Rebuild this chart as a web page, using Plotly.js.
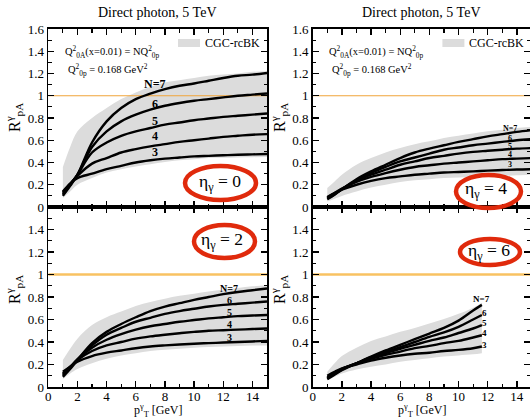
<!DOCTYPE html>
<html><head><meta charset="utf-8">
<script src="https://cdn.plot.ly/plotly-3.0.1.min.js"></script>
<style>body{margin:0;background:#fff}#chart{width:530px;height:419px}</style>
</head><body><div id="chart"></div><script>
// ---- data ----
const xGrid = [1,1.5,2,3,4,5,6,7,8,9,10,11,12,13,14,15];
const xGridEta6 = [1,1.5,2,3,4,5,6,7,8,9,10,11,11.6];
const nLabels = ['N=7','6','5','4','3'];

// eta = 0
const eta0_N7 = [0.10,0.19,0.29,0.58,0.77,0.89,0.97,1.02,1.06,1.09,1.11,1.135,1.16,1.18,1.19,1.205];
const eta0_N6 = [0.11,0.20,0.29,0.54,0.68,0.77,0.83,0.875,0.91,0.935,0.955,0.97,0.985,1.0,1.01,1.02];
const eta0_N5 = [0.12,0.20,0.29,0.49,0.58,0.64,0.68,0.71,0.74,0.76,0.78,0.795,0.81,0.82,0.83,0.84];
const eta0_N4 = [0.13,0.21,0.28,0.39,0.44,0.49,0.52,0.545,0.565,0.585,0.60,0.615,0.63,0.64,0.65,0.655];
const eta0_N3 = [0.14,0.21,0.26,0.30,0.34,0.37,0.40,0.42,0.435,0.445,0.455,0.46,0.465,0.47,0.473,0.476];
const eta0_bandHi = [0.36,0.54,0.68,0.80,0.89,0.97,1.03,1.08,1.12,1.14,1.16,1.18,1.19,1.20,1.215,1.22];
const eta0_bandLo = [0.08,0.14,0.20,0.26,0.31,0.34,0.365,0.385,0.405,0.42,0.43,0.44,0.443,0.446,0.448,0.45];

// eta = 4
const eta4_N7 = [0.07,0.11,0.16,0.25,0.32,0.38,0.44,0.49,0.525,0.555,0.585,0.61,0.635,0.655,0.675,0.69];
const eta4_N6 = [0.075,0.115,0.16,0.24,0.305,0.36,0.41,0.445,0.48,0.515,0.535,0.555,0.57,0.585,0.60,0.61];
const eta4_N5 = [0.08,0.12,0.16,0.235,0.29,0.335,0.38,0.41,0.44,0.46,0.48,0.495,0.505,0.515,0.525,0.53];
const eta4_N4 = [0.085,0.125,0.165,0.225,0.27,0.305,0.335,0.36,0.375,0.39,0.40,0.41,0.42,0.43,0.435,0.44];
const eta4_N3 = [0.09,0.125,0.155,0.20,0.235,0.26,0.275,0.29,0.30,0.31,0.315,0.32,0.327,0.332,0.337,0.34];
const eta4_bandHi = [0.17,0.23,0.29,0.38,0.44,0.49,0.53,0.565,0.59,0.62,0.64,0.66,0.68,0.695,0.71,0.72];
const eta4_bandLo = [0.05,0.075,0.10,0.14,0.175,0.20,0.225,0.24,0.25,0.26,0.265,0.27,0.275,0.28,0.285,0.29];

// eta = 2
const eta2_N7 = [0.09,0.16,0.24,0.39,0.49,0.56,0.62,0.675,0.715,0.745,0.775,0.80,0.825,0.845,0.86,0.875];
const eta2_N6 = [0.10,0.17,0.245,0.37,0.465,0.525,0.58,0.615,0.65,0.675,0.695,0.715,0.73,0.74,0.75,0.76];
const eta2_N5 = [0.11,0.175,0.245,0.35,0.42,0.47,0.51,0.54,0.56,0.58,0.595,0.61,0.62,0.63,0.635,0.64];
const eta2_N4 = [0.12,0.18,0.24,0.32,0.37,0.40,0.43,0.45,0.465,0.478,0.49,0.50,0.505,0.51,0.515,0.52];
const eta2_N3 = [0.135,0.18,0.225,0.275,0.305,0.325,0.345,0.36,0.37,0.378,0.385,0.39,0.395,0.40,0.405,0.41];
const eta2_bandHi = [0.24,0.34,0.43,0.55,0.62,0.67,0.72,0.755,0.785,0.81,0.83,0.85,0.865,0.88,0.895,0.905];
const eta2_bandLo = [0.07,0.12,0.16,0.21,0.25,0.28,0.30,0.32,0.33,0.34,0.35,0.355,0.36,0.365,0.368,0.37];

// eta = 6
const eta6_N7 = [0.07,0.11,0.15,0.21,0.27,0.325,0.375,0.425,0.475,0.525,0.59,0.68,0.73];
const eta6_N6 = [0.075,0.115,0.155,0.21,0.265,0.31,0.355,0.40,0.445,0.485,0.535,0.60,0.64];
const eta6_N5 = [0.08,0.12,0.16,0.21,0.26,0.30,0.34,0.375,0.41,0.44,0.48,0.52,0.55];
const eta6_N4 = [0.085,0.125,0.16,0.21,0.25,0.285,0.315,0.345,0.365,0.39,0.41,0.44,0.46];
const eta6_N3 = [0.10,0.135,0.165,0.20,0.235,0.26,0.28,0.295,0.305,0.32,0.33,0.345,0.36];
const eta6_bandHi = [0.135,0.21,0.275,0.35,0.41,0.45,0.49,0.525,0.565,0.605,0.65,0.705,0.75];
const eta6_bandLo = [0.06,0.09,0.12,0.155,0.18,0.20,0.225,0.24,0.255,0.27,0.28,0.29,0.30];

const unityX = [0, 15];
const unityY = [1, 1];
const yTickVals = [0,0.2,0.4,0.6,0.8,1,1.2,1.4,1.6];
const yTickTextTop = ['0','0.2','0.4','0.6','0.8','1','1.2','1.4','1.6'];
const yTickTextBottom = ['0','0.2','0.4','0.6','0.8','1','1.2','1.4',''];
const xTickVals = [0,2,4,6,8,10,12,14];

// ---- layout helpers ----
const W = 530, H = 419;
const PX = p => p / W;
const PY = p => (H - p) / H;
const FONT = 'Liberation Serif';

const panels = [
  {xa:'x', ya:'y', x: xGrid, curves:[eta0_N7,eta0_N6,eta0_N5,eta0_N4,eta0_N3], lo: eta0_bandLo, hi: eta0_bandHi, unityColor:'#f0a43a', unityW:1.2},
  {xa:'x2', ya:'y2', x: xGrid, curves:[eta4_N7,eta4_N6,eta4_N5,eta4_N4,eta4_N3], lo: eta4_bandLo, hi: eta4_bandHi, unityColor:'#f0a43a', unityW:1.2},
  {xa:'x3', ya:'y3', x: xGrid, curves:[eta2_N7,eta2_N6,eta2_N5,eta2_N4,eta2_N3], lo: eta2_bandLo, hi: eta2_bandHi, unityColor:'#f8c262', unityW:2.4},
  {xa:'x4', ya:'y4', x: xGridEta6, curves:[eta6_N7,eta6_N6,eta6_N5,eta6_N4,eta6_N3], lo: eta6_bandLo, hi: eta6_bandHi, unityColor:'#f8c262', unityW:2.4}
];

const traces = [];
panels.forEach(p => {
  traces.push({x:p.x, y:p.lo, xaxis:p.xa, yaxis:p.ya, mode:'lines', line:{width:0, shape:'spline', color:'#dcdcdc'}, hoverinfo:'skip', showlegend:false});
  traces.push({x:p.x, y:p.hi, xaxis:p.xa, yaxis:p.ya, mode:'lines', fill:'tonexty', fillcolor:'#dcdcdc', line:{width:0, shape:'spline', color:'#dcdcdc'}, hoverinfo:'skip', showlegend:false});
  traces.push({x:unityX, y:unityY, xaxis:p.xa, yaxis:p.ya, mode:'lines', line:{width:p.unityW, color:p.unityColor}, showlegend:false, hoverinfo:'skip'});
  p.curves.forEach((c,i) => {
    traces.push({x:p.x, y:c, xaxis:p.xa, yaxis:p.ya, mode:'lines', name:nLabels[i], line:{width:2.4, color:'#000', shape:'spline', smoothing:1}, showlegend:false});
  });
});

const axisBase = {
  showline:true, linecolor:'#000', linewidth:1.6, mirror:'allticks',
  ticks:'inside', ticklen:6, tickwidth:1.4, tickcolor:'#000',
  showgrid:false, zeroline:false,
  tickfont:{family:FONT, size:13, color:'#000'}
};
function xAxis(domain, range, labels, anchor) {
  return Object.assign({}, axisBase, {domain, range, anchor, tickmode:'array', tickvals:xTickVals, showticklabels:labels,
    ticklabelstandoff:-3,
    minor:{ticks:'inside', dtick:1, tick0:0, ticklen:3.5, tickwidth:1.2, tickcolor:'#000', showgrid:false}});
}
function yAxis(domain, text, anchor) {
  return Object.assign({}, axisBase, {domain, range:[0,1.6], anchor, tickmode:'array', tickvals:yTickVals, ticktext:text,
    minor:{ticks:'inside', dtick:0.1, tick0:0, ticklen:3.5, tickwidth:1.2, tickcolor:'#000', showgrid:false}});
}

const xL = [PX(48.3), PX(267)];
const xR = [PX(312.7), 1];
const yT = [PY(207), PY(29)];
const yB = [PY(387), PY(207)];

const ann = [];
const shapes = [];
function txt(x, y, text, size, extra) {
  ann.push(Object.assign({xref:'paper', yref:'paper', x:PX(x), y:PY(y), xanchor:'center', yanchor:'middle', borderpad:0, text, showarrow:false, font:{family:FONT, size, color:'#000'}}, extra||{}));
}
// titles
txt(157.5, 13, 'Direct photon, 5 TeV', 14);
txt(421, 13, 'Direct photon, 5 TeV', 14);
// y titles
[[14,118],[14,290],[279,118],[279,290]].forEach(p => txt(p[0], p[1], 'R<sup>γ</sup><sub>pA</sub>', 16, {textangle:-90}));
// x titles
txt(158, 410.5, 'p<sup>γ</sup><sub>T</sub> [GeV]', 12);
txt(422, 410.5, 'p<sup>γ</sup><sub>T</sub> [GeV]', 12);
// Q annotations & legend for top panels
[0, 264.4].forEach(dx => {
  txt(64+dx, 52, 'Q<sup>2</sup><sub>0A</sub>(x=0.01) = NQ<sup>2</sup><sub>0p</sub>', 10.5, {xanchor:'left'});
  txt(67+dx, 70, 'Q<sup>2</sup><sub>0p</sub> = 0.168 GeV<sup>2</sup>', 10.5, {xanchor:'left'});
  shapes.push({type:'rect', xref:'paper', yref:'paper', x0:PX(178+dx), x1:PX(200+dx), y0:PY(47), y1:PY(39), fillcolor:'#dcdcdc', line:{width:0}});
  txt(204+dx, 43, 'CGC-rcBK', 12, {xanchor:'left'});
});
// eta ellipses
const ellipses = [
  {b:[185,256,166,200], c:[220,182], t:'0'},
  {b:[456,521,175,208], c:[486,189], t:'4'},
  {b:[194,255,225,258], c:[222,240], t:'2'},
  {b:[460,520,239,265], c:[489,251], t:'6'}
];
ellipses.forEach(e => {
  shapes.push({type:'circle', xref:'paper', yref:'paper', x0:PX(e.b[0]), x1:PX(e.b[1]), y0:PY(e.b[3]), y1:PY(e.b[2]), line:{color:'#e02a0c', width:4.5}});
  txt(e.c[0], e.c[1], 'η<sub>γ</sub> = ' + e.t, 17.5);
});
// N labels (data coordinates)
const labelSets = [
  {xr:'x', yr:'y', xs:[7.3,7.3,7.3,7.3,7.3], ys:[1.11,0.93,0.77,0.64,0.49], size:12},
  {xr:'x2', yr:'y2', xs:[13.5,13.5,13.5,13.5,13.5], ys:[0.707,0.62,0.548,0.476,0.386], size:8},
  {xr:'x3', yr:'y3', xs:[12.4,12.4,12.4,12.4,12.4], ys:[0.877,0.77,0.66,0.56,0.44], size:10},
  {xr:'x4', yr:'y4', xs:[11.6,11.8,11.8,11.8,11.8], ys:[0.78,0.66,0.566,0.477,0.37], size:9}
];
labelSets.forEach(s => nLabels.forEach((l,i) => {
  ann.push({xref:s.xr, yref:s.yr, x:s.xs[i], y:s.ys[i], xanchor:'center', yanchor:'middle', borderpad:0, text:'<b>'+l+'</b>', showarrow:false, font:{family:FONT, size:s.size, color:'#000'}});
}));

const layout = {
  width:W, height:H, margin:{l:0,r:0,t:0,b:0}, paper_bgcolor:'#fff', plot_bgcolor:'rgba(0,0,0,0)',
  showlegend:false, font:{family:FONT, color:'#000'},
  xaxis: xAxis(xL, [0,15], false, 'y'),
  yaxis: yAxis(yT, yTickTextTop, 'x'),
  xaxis2: xAxis(xR, [0,14.9], false, 'y2'),
  yaxis2: yAxis(yT, yTickTextTop, 'x2'),
  xaxis3: xAxis(xL, [0,15], true, 'y3'),
  yaxis3: yAxis(yB, yTickTextBottom, 'x3'),
  xaxis4: xAxis(xR, [0,14.9], true, 'y4'),
  yaxis4: yAxis(yB, yTickTextBottom, 'x4'),
  annotations: ann, shapes: shapes
};
Plotly.newPlot('chart', traces, layout, {staticPlot:true, displayModeBar:false});
</script></body></html>
